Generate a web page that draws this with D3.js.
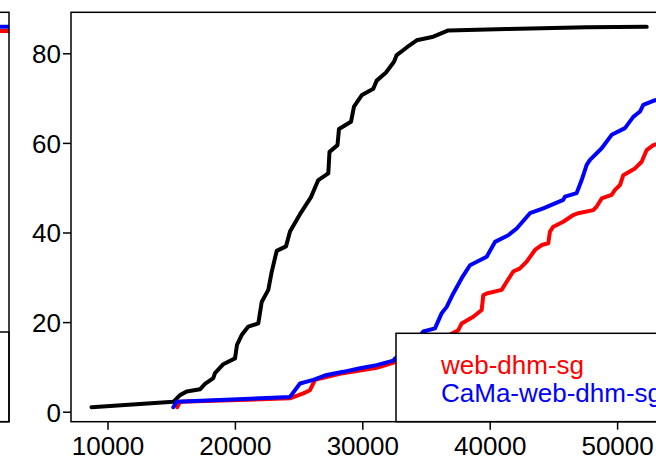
<!DOCTYPE html>
<html>
<head>
<meta charset="utf-8">
<script src="https://cdn.jsdelivr.net/npm/d3@7"></script>
<style>
  html, body { margin: 0; padding: 0; background: #fff; overflow: hidden; }
  svg { display: block; font-family: "Liberation Sans", Arial, sans-serif; }
</style>
</head>
<body>
<svg id="chart" width="656" height="460"></svg>
<script>
// Cumulative curves: [x, count]
const observed = [
  [8744, 1], [15165, 2.2], [15690, 3.7], [16216, 4.5], [17260, 5.0], [17653, 6.2],
  [18304, 7.5], [18438, 8.6], [19089, 10.6], [20008, 11.9], [20164, 14.9], [20533, 17.1],
  [21051, 19.0], [21836, 19.7], [22103, 24.5], [22621, 27.2], [22888, 31.2], [23281, 35.9],
  [24010, 36.9], [24324, 40.2], [25109, 44.1], [25973, 47.9], [26546, 51.7], [27331, 53.2],
  [27425, 58.0], [28053, 59.5], [28170, 63.1], [29112, 64.7], [29348, 68.1], [29976, 70.7],
  [30863, 72.1], [31130, 73.9], [31860, 75.7], [32488, 78.1], [32700, 79.6], [33484, 81.3],
  [34269, 82.9], [35572, 83.7], [36749, 85.1], [41333, 85.4], [47612, 85.8], [52322, 85.9]
];

const webDhmSg = [
  [15480, 1], [15690, 2.2], [24324, 3.0], [25368, 4.1], [25894, 4.8], [26286, 7.1],
  [28484, 8.6], [31130, 9.8], [32409, 10.9], [35000, 14.5], [37534, 18.2], [37801, 19.7],
  [38711, 21.2], [39370, 22.7], [39496, 26.0], [39763, 26.4], [40940, 27.2], [41333, 29.0],
  [41851, 31.3], [42377, 32.0], [42903, 33.5], [43554, 36.1], [44080, 37.2], [44598, 37.6],
  [44731, 40.2], [44990, 41.3], [45775, 42.4], [46560, 43.9], [46953, 44.3], [48130, 45.0],
  [48397, 45.8], [48789, 47.6], [49574, 48.4], [49833, 49.5], [50226, 50.6], [50485, 52.8],
  [51403, 54.3], [51929, 55.8], [52322, 58.4], [52840, 59.5], [53366, 59.9]
];

const camaWebDhmSg = [
  [15165, 1], [15431, 2.2], [24324, 3.3], [25109, 6.3], [26153, 7.1], [27205, 8.2],
  [28508, 8.9], [29818, 9.7], [31130, 10.4], [32432, 11.4], [32567, 11.9], [33744, 13.8],
  [34787, 17.9], [35705, 18.6], [36231, 22.0], [36623, 23.4], [37141, 26.4], [37801, 29.8],
  [38452, 32.7], [39763, 34.6], [40415, 37.9], [41459, 39.4], [42118, 40.9], [43162, 44.3],
  [44206, 45.4], [45776, 47.3], [45909, 48.0], [46827, 48.8], [47219, 51.7], [47612, 55.1],
  [47871, 56.2], [48789, 58.8], [49574, 61.8], [50618, 63.3], [51269, 65.8], [51795, 67.0],
  [52054, 68.5], [52839, 69.4], [53366, 69.8]
];

// Neighbouring panel: tail ends of its two curves
const leftWebDhmSg = [[40000, 85.0], [56000, 85.0]];
const leftCamaWebDhmSg = [[40000, 85.9], [56000, 85.9]];

const xTicks = [10000, 20000, 30000, 40000, 50000];
const yTicks = [0, 20, 40, 60, 80];
const legendLabels = ["web-dhm-sg", "CaMa-web-dhm-sg"];
const seriesColors = { observed: "#000000", web: "#ff0000", cama: "#0000ff" };

const svg = d3.select("#chart");
const fontSize = 26;

// Main panel geometry
const P = { left: 71, top: 12.3, right: 670, bottom: 421.7 };
const x = d3.scaleLinear().domain([7135, 54152]).range([P.left, P.right]);
const y = d3.scaleLinear().domain([-2.23, 89.15]).range([P.bottom, P.top]);

// Neighbouring panel geometry (only its right edge is in view)
const L = { left: 9 - (P.right - P.left), top: P.top, right: 9, bottom: P.bottom };
const xl = d3.scaleLinear().domain([7135, 54152]).range([L.left, L.right]);

const defs = svg.append("defs");
defs.append("clipPath").attr("id", "clipMain").append("rect")
  .attr("x", P.left).attr("y", P.top).attr("width", P.right - P.left).attr("height", P.bottom - P.top);
defs.append("clipPath").attr("id", "clipLeft").append("rect")
  .attr("x", L.left).attr("y", L.top).attr("width", L.right - L.left).attr("height", L.bottom - L.top);

function drawLine(g, data, xs, color) {
  const line = d3.line().x(d => xs(d[0])).y(d => y(d[1]));
  g.append("path").datum(data)
    .attr("d", line)
    .attr("fill", "none")
    .attr("stroke", color)
    .attr("stroke-width", 4)
    .attr("stroke-linejoin", "round")
    .attr("stroke-linecap", "round");
}

// ---- neighbouring panel ----
const gl = svg.append("g").attr("clip-path", "url(#clipLeft)");
drawLine(gl, leftWebDhmSg, xl, seriesColors.web);
drawLine(gl, leftCamaWebDhmSg, xl, seriesColors.cama);
// its legend box top edge
svg.append("rect")
  .attr("x", L.right - 260).attr("y", 332)
  .attr("width", 260).attr("height", L.bottom - 332)
  .attr("fill", "#fff").attr("stroke", "#000").attr("stroke-width", 1.5);
svg.append("rect")
  .attr("x", L.left).attr("y", L.top)
  .attr("width", L.right - L.left).attr("height", L.bottom - L.top)
  .attr("fill", "none").attr("stroke", "#000").attr("stroke-width", 1.5);

// ---- main panel ----
const gm = svg.append("g").attr("clip-path", "url(#clipMain)");
drawLine(gm, observed, x, seriesColors.observed);
drawLine(gm, webDhmSg, x, seriesColors.web);
drawLine(gm, camaWebDhmSg, x, seriesColors.cama);

// Axes
const xAxis = d3.axisBottom(x).tickValues(xTicks).tickFormat(d3.format("d"))
  .tickSizeInner(8).tickSizeOuter(0).tickPadding(6);
const gx = svg.append("g").attr("transform", `translate(0,${P.bottom})`).call(xAxis);
gx.select(".domain").remove();
gx.selectAll(".tick line").attr("stroke", "#000").attr("stroke-width", 1.5);
gx.selectAll(".tick text")
  .attr("font-size", fontSize).attr("fill", "#000")
  .attr("font-family", "'Liberation Sans', Arial, sans-serif")
  .attr("dy", null).attr("y", 33);

const yAxis = d3.axisLeft(y).tickValues(yTicks).tickFormat(d3.format("d"))
  .tickSizeInner(8).tickSizeOuter(0).tickPadding(2);
const gy = svg.append("g").attr("transform", `translate(${P.left},0)`).call(yAxis);
gy.select(".domain").remove();
gy.selectAll(".tick line").attr("stroke", "#000").attr("stroke-width", 1.5);
gy.selectAll(".tick text")
  .attr("font-size", fontSize).attr("fill", "#000")
  .attr("font-family", "'Liberation Sans', Arial, sans-serif")
  .attr("x", -10).attr("dy", "0.36em");

// Legend
const legend = svg.append("g");
legend.append("rect")
  .attr("x", 396).attr("y", 333.3)
  .attr("width", 320).attr("height", P.bottom - 333.3)
  .attr("fill", "#fff").attr("stroke", "#000").attr("stroke-width", 1.5);
legend.selectAll("text").data(legendLabels).join("text")
  .attr("x", 441)
  .attr("y", (d, i) => 374 + i * 27.5)
  .attr("font-size", fontSize)
  .attr("fill", (d, i) => i === 0 ? seriesColors.web : seriesColors.cama)
  .text(d => d);

// Plot frame
svg.append("rect")
  .attr("x", P.left).attr("y", P.top)
  .attr("width", P.right - P.left).attr("height", P.bottom - P.top)
  .attr("fill", "none").attr("stroke", "#000").attr("stroke-width", 1.5);
</script>
</body>
</html>
